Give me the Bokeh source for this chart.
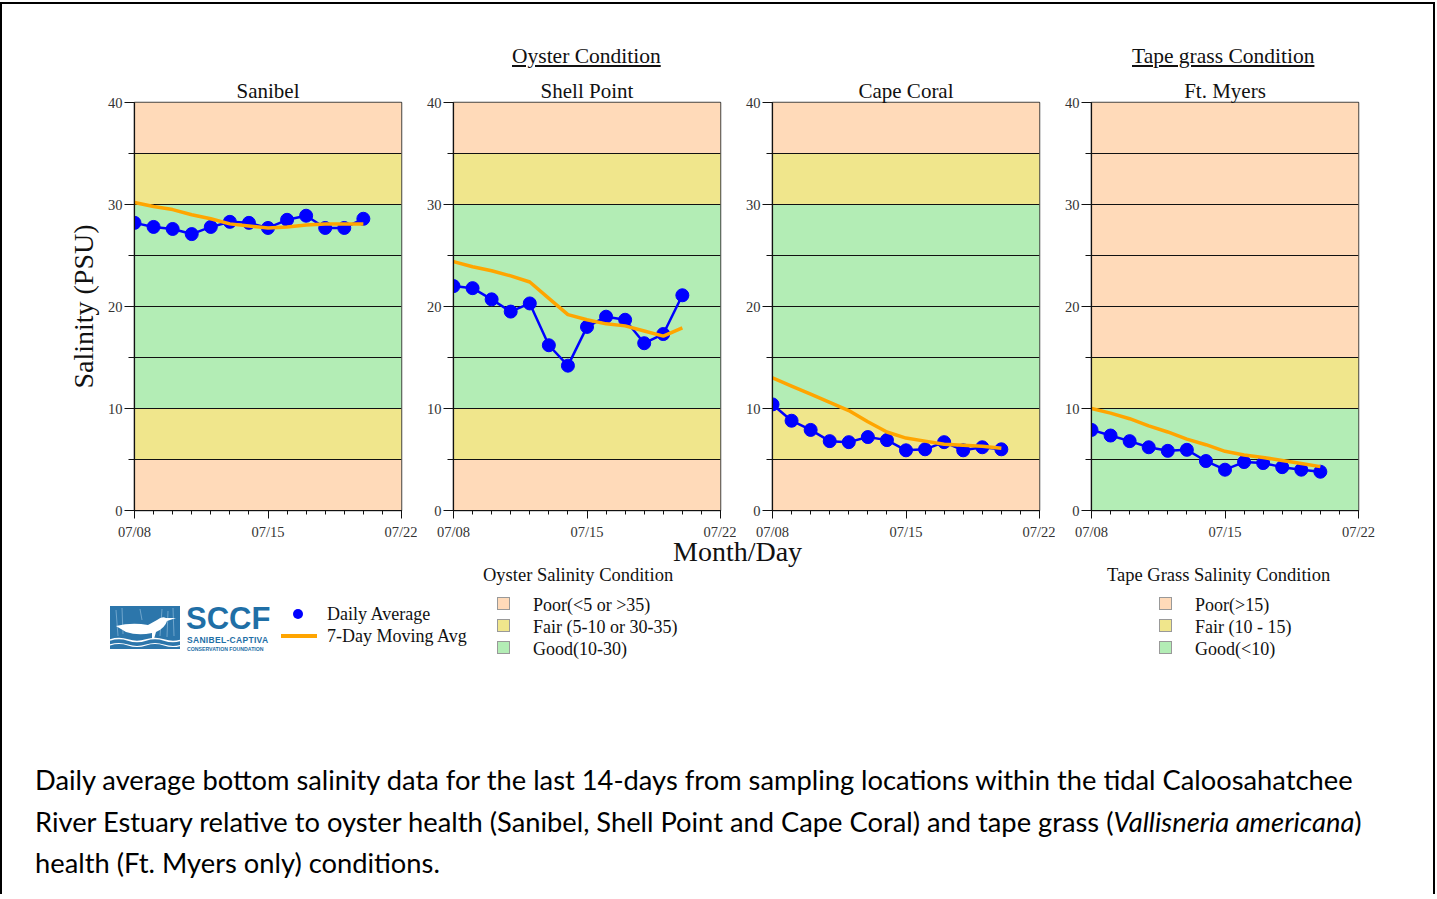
import pandas as pd
from bokeh.plotting import figure
from bokeh.layouts import column, row
from bokeh.models import Div, Range1d, FixedTicker, DatetimeTickFormatter
from bokeh.embed import file_html
from bokeh.resources import INLINE

# ---------------- data ----------------
dates = ["2024-07-08", "2024-07-09", "2024-07-10", "2024-07-11", "2024-07-12",
         "2024-07-13", "2024-07-14", "2024-07-15", "2024-07-16", "2024-07-17",
         "2024-07-18", "2024-07-19", "2024-07-20"]
axis_start = "2024-07-08"
axis_end = "2024-07-22"
major_dates = ["2024-07-08", "2024-07-15", "2024-07-22"]
minor_dates = ["2024-07-08", "2024-07-09", "2024-07-10", "2024-07-11", "2024-07-12",
               "2024-07-13", "2024-07-14", "2024-07-15", "2024-07-16", "2024-07-17",
               "2024-07-18", "2024-07-19", "2024-07-20", "2024-07-21", "2024-07-22"]

stations = ["Sanibel", "Shell Point", "Cape Coral", "Ft. Myers"]

sanibel_daily = [28.2, 27.8, 27.6, 27.1, 27.8, 28.3, 28.2, 27.7, 28.5, 28.9, 27.7, 27.7, 28.6]
sanibel_ma = [30.2, 29.8, 29.5, 29.0, 28.6, 28.1, 27.9, 27.7, 27.8, 28.0, 28.1, 28.1, 28.1]

shell_daily = [22.0, 21.8, 20.7, 19.5, 20.3, 16.2, 14.2, 18.0, 19.0, 18.7, 16.4, 17.3, 21.1]
shell_ma = [24.4, 23.9, 23.5, 23.0, 22.4, 20.8, 19.2, 18.7, 18.3, 18.1, 17.6, 17.1, 17.9]

cape_daily = [10.4, 8.8, 7.9, 6.8, 6.7, 7.2, 6.9, 5.9, 6.0, 6.7, 5.9, 6.2, 6.0]
cape_ma = [13.0, 12.2, 11.4, 10.6, 9.8, 8.7, 7.7, 7.1, 6.8, 6.5, 6.4, 6.3, 6.1]

ftmyers_daily = [7.9, 7.35, 6.8, 6.2, 5.85, 5.95, 4.85, 4.0, 4.75, 4.65, 4.25, 4.0, 3.8]
ftmyers_ma = [10.0, 9.55, 9.0, 8.3, 7.7, 7.0, 6.45, 5.8, 5.45, 5.2, 4.9, 4.6, 4.3]

y_major = [0, 10, 20, 30, 40]
y_minor = [5, 15, 25, 35]
band_lines = [5, 10, 15, 20, 25, 30, 35]

oyster_band_bottom = [0, 5, 10, 30, 35]
oyster_band_top = [5, 10, 30, 35, 40]
oyster_band_class = ["Poor", "Fair", "Good", "Fair", "Poor"]
tape_band_bottom = [0, 10, 15]
tape_band_top = [10, 15, 40]
tape_band_class = ["Good", "Fair", "Poor"]
class_colors = {"Poor": "#FFDAB9", "Fair": "#F0E68C", "Good": "#B3EDB5"}

legend_classes = ["Poor", "Fair", "Good"]
oyster_legend_labels = ["Poor(&lt;5 or &gt;35)", "Fair (5-10 or 30-35)", "Good(10-30)"]
tape_legend_labels = ["Poor(&gt;15)", "Fair (10 - 15)", "Good(&lt;10)"]

FONTS = {
    "serif": ("'Liberation Serif', 'Times New Roman', serif", 0.891, 0.216),
    "lato": ("Lato, 'Open Sans', sans-serif", 0.987, 0.213),
    "sans": ("'Liberation Sans', Arial, sans-serif", 0.905, 0.212),
}

x_dates = pd.to_datetime(dates)
x0 = pd.Timestamp(axis_start)
x1 = pd.Timestamp(axis_end)


def ms(d):
    return pd.Timestamp(d).value / 1e6


FIG_H = 472


def panel(name, daily, ma, bb, bt, bc, width, left, right, ylabel=None):
    p = figure(width=width, height=FIG_H, x_axis_type="datetime",
               x_range=Range1d(x0, x1), y_range=Range1d(0, 40),
               output_backend="svg", toolbar_location=None,
               min_border_left=left, min_border_right=right,
               min_border_top=32, min_border_bottom=30,
               background_fill_color="white", border_fill_color="white",
               outline_line_color="#444444", outline_line_width=1.5)
    n = len(bb)
    r = p.quad(left=[x0] * n, right=[x1] * n, bottom=bb, top=bt,
               fill_color=[class_colors[c] for c in bc], line_color=None)
    r.level = "image"
    p.xgrid.visible = False
    p.ygrid.ticker = FixedTicker(ticks=band_lines)
    p.ygrid.grid_line_color = "#111111"
    p.ygrid.grid_line_width = 1.2

    p.line(x_dates, daily, line_color="#0000FF", line_width=2.5)
    p.scatter(x_dates, daily, size=13, fill_color="#0000FF", line_color="#0000FF")
    p.line(x_dates, ma, line_color="#FFA500", line_width=3.5)

    p.title.text = name
    p.title.align = "center"
    p.title.text_font = "Liberation Serif"
    p.title.text_font_size = "21px"
    p.title.text_font_style = "normal"
    p.title.text_color = "#111111"
    p.title.standoff = 0

    p.yaxis.ticker = FixedTicker(ticks=y_major, minor_ticks=y_minor)
    p.xaxis.ticker = FixedTicker(ticks=[ms(d) for d in major_dates],
                                 minor_ticks=[ms(d) for d in minor_dates])
    p.xaxis.formatter = DatetimeTickFormatter(days="%m/%d", months="%m/%d", years="%m/%d",
                                              hours="%m/%d", minutes="%m/%d",
                                              seconds="%m/%d", milliseconds="%m/%d",
                                              minsec="%m/%d", hourmin="%m/%d")
    for ax in (p.xaxis[0], p.yaxis[0]):
        ax.axis_line_color = "#111111"
        ax.axis_line_width = 1.2
        ax.major_tick_line_color = "#111111"
        ax.minor_tick_line_color = "#111111"
        ax.major_tick_in = 0
        ax.minor_tick_in = 0
        ax.major_label_text_font = "Liberation Serif"
        ax.major_label_text_font_size = "14.5px"
        ax.major_label_text_color = "#333333"
        ax.major_label_standoff = 2
    p.xaxis.major_label_standoff = 5
    p.yaxis.major_tick_out = 10
    p.yaxis.minor_tick_out = 6
    p.xaxis.major_tick_out = 8
    p.xaxis.minor_tick_out = 4
    if ylabel:
        p.yaxis.axis_label = ylabel
        p.yaxis.axis_label_text_font = "Liberation Serif"
        p.yaxis.axis_label_text_font_size = "28px"
        p.yaxis.axis_label_text_font_style = "normal"
        p.yaxis.axis_label_text_color = "#111111"
        p.yaxis.axis_label_standoff = 6
    return p


# content origin in page pixels: column margin-top 2 + border 2, border-left 2
OX = 2
CONTENT_W = 1431

p1 = panel(stations[0], sanibel_daily, sanibel_ma, oyster_band_bottom, oyster_band_top,
           oyster_band_class, 415, 132, 16, ylabel="Salinity (PSU)")
p2 = panel(stations[1], shell_daily, shell_ma, oyster_band_bottom, oyster_band_top,
           oyster_band_class, 319, 36, 16)
p3 = panel(stations[2], cape_daily, cape_ma, oyster_band_bottom, oyster_band_top,
           oyster_band_class, 319, 36, 16)
p4 = panel(stations[3], ftmyers_daily, ftmyers_ma, tape_band_bottom, tape_band_top,
           tape_band_class, CONTENT_W - 415 - 638, 36, CONTENT_W - 415 - 638 - 36 - 267)


def txt(s, x, base, fs, oy, font="serif", lh=1.0, color="#111", extra=""):
    fam, a, d = FONTS[font]
    top = base - ((lh - (a + d)) / 2 + a) * fs - oy
    left = x - OX
    return (f'<div style="position:absolute;left:{left:.1f}px;top:{top:.1f}px;'
            f'font-family:{fam};font-size:{fs}px;line-height:{lh};white-space:nowrap;'
            f'color:{color};{extra}">{s}</div>')


def box(x, y, w, h, oy, style):
    return (f'<div style="position:absolute;left:{x - OX:.1f}px;top:{y - oy:.1f}px;'
            f'width:{w}px;height:{h}px;{style}"></div>')


TOP_H = 66
top_oy = 4
top_html = (f'<div style="position:relative;width:{CONTENT_W}px;height:{TOP_H}px;">'
            + txt("Oyster Condition", 512, 64, 21.5, top_oy, extra="text-decoration:underline;")
            + txt("Tape grass Condition", 1132, 64, 21.5, top_oy, extra="text-decoration:underline;")
            + '</div>')
top_div = Div(text=top_html, width=CONTENT_W, height=TOP_H, margin=0)

boy = 70 + FIG_H
BOT_H = 898 - 4 - boy
parts = []
parts.append(txt("Month/Day", 673, 561, 28, boy, lh=0.65))
# logo
logo_svg = (
    '<svg width="70" height="43" viewBox="0 0 70 43" xmlns="http://www.w3.org/2000/svg">'
    '<rect width="70" height="43" fill="#2c76ab"/>'
    '<g stroke="#7fb0d3" stroke-width="0.8">'
    '<line x1="6" y1="4" x2="8" y2="30"/><line x1="12" y1="2" x2="13" y2="28"/>'
    '<line x1="52" y1="3" x2="50" y2="30"/><line x1="58" y1="5" x2="57" y2="31"/>'
    '<line x1="63" y1="2" x2="64" y2="30"/><line x1="30" y1="3" x2="32" y2="14"/></g>'
    '<path d="M6 20 Q 22 16 38 19 L 47 14 Q 52 10 56 12 L 66 12 L 57 15 Q 55 22 46 26 '
    'L 44 33 L 42 33 L 42 27 Q 28 30 16 26 Z" fill="white"/>'
    '<path d="M0 34 Q 9 31 18 34 T 36 34 T 54 34 T 72 34" stroke="white" fill="none" stroke-width="1.4"/>'
    '<path d="M0 39 Q 9 36 18 39 T 36 39 T 54 39 T 72 39" stroke="white" fill="none" stroke-width="1.2"/>'
    '</svg>')
parts.append(f'<div style="position:absolute;left:{110 - OX}px;top:{606 - boy}px;width:70px;height:43px;">{logo_svg}</div>')
parts.append(txt("SCCF", 186, 630, 31, boy, font="sans", lh=0.8, color="#1f6fa6",
                 extra="font-weight:bold;"))
parts.append(txt("SANIBEL-CAPTIVA", 187, 643.5, 8.5, boy, font="sans", lh=0.8, color="#1f6fa6",
                 extra="font-weight:bold;letter-spacing:0.3px;"))
parts.append(txt("CONSERVATION FOUNDATION", 187, 650.5, 5.2, boy, font="sans", lh=0.8,
                 color="#1f6fa6", extra="font-weight:bold;"))
# series legend
parts.append(f'<div style="position:absolute;left:{293 - OX}px;top:{609 - boy}px;width:10px;height:10px;'
             f'border-radius:50%;background:#0000FF;"></div>')
parts.append(box(281, 634, 36, 4, boy, "background:#FFA500;"))
parts.append(txt("Daily Average", 327, 620, 18, boy))
parts.append(txt("7-Day Moving Avg", 327, 642, 18, boy))
# oyster legend
parts.append(txt("Oyster Salinity Condition", 483, 581, 18.5, boy))
for i, (c, lab) in enumerate(zip(legend_classes, oyster_legend_labels)):
    yb = 611 + i * 21.8
    parts.append(box(497, yb - 14, 13, 13, boy, f"background:{class_colors[c]};border:1px solid #999;"))
    parts.append(txt(lab, 533, yb, 18, boy))
# tape legend
parts.append(txt("Tape Grass Salinity Condition", 1107, 581, 18.5, boy))
for i, (c, lab) in enumerate(zip(legend_classes, tape_legend_labels)):
    yb = 611 + i * 21.8
    parts.append(box(1159, yb - 14, 13, 13, boy, f"background:{class_colors[c]};border:1px solid #999;"))
    parts.append(txt(lab, 1195, yb, 18, boy))
# caption
cap_lines = [
    "Daily average bottom salinity data for the last 14-days from sampling locations within the tidal Caloosahatchee",
    "River Estuary relative to oyster health (Sanibel, Shell Point and Cape Coral) and tape grass (<i>Vallisneria americana</i>)",
    "health (Ft. Myers only) conditions.",
]
for i, line in enumerate(cap_lines):
    parts.append(txt(line, 35, 790.5 + i * 41.5, 27.3, boy, font="lato", color="#000"))

bot_html = f'<div style="position:relative;width:{CONTENT_W}px;height:{BOT_H}px;">' + "".join(parts) + '</div>'
bot_div = Div(text=bot_html, width=CONTENT_W, height=BOT_H, margin=0)

layout = column(top_div, row(p1, p2, p3, p4), bot_div, margin=(2, 0, 0, 0),
                styles={"border-top": "2px solid black", "border-left": "2px solid black",
                        "border-right": "2px solid black"})

open("out.html", "w").write(file_html(layout, INLINE))
